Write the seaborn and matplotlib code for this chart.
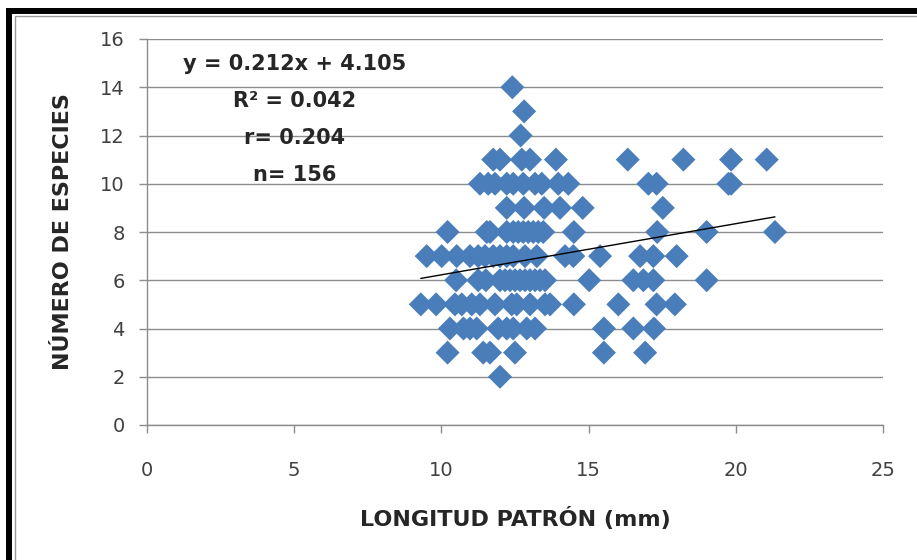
import matplotlib
matplotlib.use("Agg")
import matplotlib.pyplot as plt
from matplotlib.patches import Rectangle
import pandas as pd
import seaborn as sns

# puntos, agrupados por numero de especies
x_y14 = [12.41]
x_y13 = [12.81]
x_y12 = [12.69]
x_y11 = [11.76, 11.99, 12.73, 13.01, 13.89, 16.33, 18.22, 19.84, 21.05]
x_y10 = [11.31, 11.59, 11.82, 12.22, 12.44, 12.78, 13.18, 13.41, 13.97, 14.31,
         17.03, 17.31, 19.75, 19.84]
x_y9 = [12.22, 12.81, 13.49, 14.03, 14.80, 17.52]
x_y8 = [10.21, 11.54, 11.65, 12.22, 12.44, 12.61, 12.78, 12.95, 13.12, 13.29,
        13.46, 14.50, 17.33, 19.01, 21.33]
x_y7 = [9.50, 10.01, 10.52, 10.97, 11.25, 11.48, 11.76, 11.99, 12.22, 12.44,
        12.84, 13.24, 14.20, 14.48, 15.39, 16.75, 17.20, 17.99]
x_y6 = [10.50, 11.25, 11.51, 11.99, 12.16, 12.33, 12.50, 12.67, 12.84, 13.01,
        13.18, 13.35, 13.52, 15.02, 16.52, 16.86, 17.20, 19.01]
x_y5 = [9.30, 9.82, 10.46, 10.69, 11.03, 11.31, 11.82, 12.39, 12.56, 13.01,
        13.52, 13.69, 14.50, 16.01, 17.31, 17.93]
x_y4 = [10.29, 10.75, 10.97, 11.20, 11.93, 12.22, 12.44, 12.90, 13.18, 15.52,
        16.52, 17.22]
x_y3 = [10.21, 11.42, 11.65, 12.50, 15.52, 16.92]
x_y2 = [11.99]

rows = {14: x_y14, 13: x_y13, 12: x_y12, 11: x_y11, 10: x_y10, 9: x_y9,
        8: x_y8, 7: x_y7, 6: x_y6, 5: x_y5, 4: x_y4, 3: x_y3, 2: x_y2}

# recta de tendencia reportada
slope = 0.212
intercept = 4.105
stats_text = ["y = 0.212x + 4.105", "R² = 0.042", "r= 0.204", "n= 156"]

df = pd.DataFrame([(x, y) for y, xs in rows.items() for x in xs],
                  columns=["longitud", "especies"])

sns.set_style("white")
plt.rcParams["font.family"] = ["DejaVu Sans"]

fig = plt.figure(figsize=(9.17, 5.6), dpi=100)
ax = fig.add_axes([147 / 917, 1 - 425 / 560, 736 / 917, 386 / 560])

sns.scatterplot(data=df, x="longitud", y="especies", marker="D", s=150,
                color="#4A7EBB", edgecolor="none", linewidth=0, ax=ax,
                zorder=3)

x0, x1 = df["longitud"].min(), df["longitud"].max()
ax.plot([x0, x1], [slope * x0 + intercept, slope * x1 + intercept],
        color="black", lw=1, zorder=4)

ax.set_xlim(0, 25)
ax.set_ylim(0, 16)
ax.set_xticks(range(0, 26, 5))
ax.set_yticks(range(0, 17, 2))
ax.grid(axis="y", color="#8c8c8c", lw=1)
ax.set_axisbelow(True)
for side in ["top", "right"]:
    ax.spines[side].set_visible(False)
for side in ["left", "bottom"]:
    ax.spines[side].set_color("#8c8c8c")
    ax.spines[side].set_linewidth(1)

ax.tick_params(axis="y", length=6, width=1, color="#8c8c8c", pad=10,
               labelsize=14, labelcolor="#404040", left=True)
ax.tick_params(axis="x", length=6, width=1, color="#8c8c8c", pad=20,
               labelsize=14, labelcolor="#404040", bottom=True)

ax.set_xlabel("LONGITUD PATRÓN (mm)", fontsize=16, fontweight="bold")
ax.set_ylabel("NÚMERO DE ESPECIES", fontsize=16, fontweight="bold")
ax.xaxis.set_label_coords(0.5, -0.212)
ax.yaxis.set_label_coords(-0.100, 0.5)

for i, t in enumerate(stats_text):
    ax.text(0.200, 0.935 - i * 0.0955, t, transform=ax.transAxes,
            ha="center", va="center", fontsize=15, fontweight="bold")

# marco negro del grafico original
fig.add_artist(Rectangle((9 / 917, -0.1), 1.2, 1 - 11 / 560 + 0.1,
                         transform=fig.transFigure, fill=False,
                         lw=4.3, ec="black"))
fig.add_artist(Rectangle((15 / 917, -0.1), 1.2, 1 - 16 / 560 + 0.1,
                         transform=fig.transFigure, fill=False,
                         lw=1, ec="#999999"))

fig.savefig("out.png", dpi=100)
